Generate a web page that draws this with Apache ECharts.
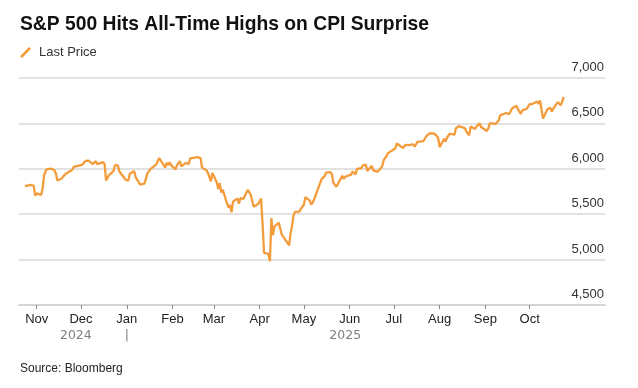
<!DOCTYPE html>
<html>
<head>
<meta charset="utf-8">
<script src="https://cdn.jsdelivr.net/npm/echarts@6/dist/echarts.min.js"></script>
<style>html,body{margin:0;padding:0;background:#fff}#c{width:638px;height:388px}</style>
</head>
<body>
<div id="c"></div>
<script>
const titleText = 'S&P 500 Hits All-Time Highs on CPI Surprise';
const seriesName = 'Last Price';
const sourceText = 'Source: Bloomberg';
const monthNames = ['Jan','Feb','Mar','Apr','May','Jun','Jul','Aug','Sep','Oct','Nov','Dec'];
const monthTicks = ['2024-11-01','2024-12-01','2025-01-01','2025-02-01','2025-03-01','2025-04-01','2025-05-01','2025-06-01','2025-07-01','2025-08-01','2025-09-01','2025-10-01'];
const yearBoundary = '2025-01-01';
const yTicks = [4500, 5000, 5500, 6000, 6500, 7000];

const dates = [
'2024-10-24','2024-10-25','2024-10-28','2024-10-29','2024-10-30','2024-10-31',
'2024-11-01','2024-11-04','2024-11-05','2024-11-06','2024-11-07','2024-11-08','2024-11-11','2024-11-12','2024-11-13','2024-11-14','2024-11-15','2024-11-18','2024-11-19','2024-11-20','2024-11-21','2024-11-22','2024-11-25','2024-11-26','2024-11-27','2024-11-29',
'2024-12-02','2024-12-03','2024-12-04','2024-12-05','2024-12-06','2024-12-09','2024-12-10','2024-12-11','2024-12-12','2024-12-13','2024-12-16','2024-12-17','2024-12-18','2024-12-19','2024-12-20','2024-12-23','2024-12-24','2024-12-26','2024-12-27','2024-12-30','2024-12-31',
'2025-01-02','2025-01-03','2025-01-06','2025-01-07','2025-01-08','2025-01-10','2025-01-13','2025-01-14','2025-01-15','2025-01-16','2025-01-17','2025-01-21','2025-01-22','2025-01-23','2025-01-24','2025-01-27','2025-01-28','2025-01-29','2025-01-30','2025-01-31',
'2025-02-03','2025-02-04','2025-02-05','2025-02-06','2025-02-07','2025-02-10','2025-02-11','2025-02-12','2025-02-13','2025-02-14','2025-02-18','2025-02-19','2025-02-20','2025-02-21','2025-02-24','2025-02-25','2025-02-26','2025-02-27','2025-02-28',
'2025-03-03','2025-03-04','2025-03-05','2025-03-06','2025-03-07','2025-03-10','2025-03-11','2025-03-12','2025-03-13','2025-03-14','2025-03-17','2025-03-18','2025-03-19','2025-03-20','2025-03-21','2025-03-24','2025-03-25','2025-03-26','2025-03-27','2025-03-28','2025-03-31',
'2025-04-01','2025-04-02','2025-04-03','2025-04-04','2025-04-07','2025-04-08','2025-04-09','2025-04-10','2025-04-11','2025-04-14','2025-04-15','2025-04-16','2025-04-17','2025-04-21','2025-04-22','2025-04-23','2025-04-24','2025-04-25','2025-04-28','2025-04-29','2025-04-30',
'2025-05-01','2025-05-02','2025-05-05','2025-05-06','2025-05-07','2025-05-08','2025-05-09','2025-05-12','2025-05-13','2025-05-14','2025-05-15','2025-05-16','2025-05-19','2025-05-20','2025-05-21','2025-05-22','2025-05-23','2025-05-27','2025-05-28','2025-05-29','2025-05-30',
'2025-06-02','2025-06-03','2025-06-04','2025-06-05','2025-06-06','2025-06-09','2025-06-10','2025-06-11','2025-06-12','2025-06-13','2025-06-16','2025-06-17','2025-06-18','2025-06-20','2025-06-23','2025-06-24','2025-06-25','2025-06-26','2025-06-27','2025-06-30',
'2025-07-01','2025-07-02','2025-07-03','2025-07-07','2025-07-08','2025-07-09','2025-07-10','2025-07-11','2025-07-14','2025-07-15','2025-07-16','2025-07-17','2025-07-18','2025-07-21','2025-07-22','2025-07-23','2025-07-24','2025-07-25','2025-07-28','2025-07-29','2025-07-30','2025-07-31',
'2025-08-01','2025-08-04','2025-08-05','2025-08-06','2025-08-07','2025-08-08','2025-08-11','2025-08-12','2025-08-13','2025-08-14','2025-08-15','2025-08-18','2025-08-19','2025-08-20','2025-08-21','2025-08-22','2025-08-25','2025-08-26','2025-08-27','2025-08-28','2025-08-29',
'2025-09-02','2025-09-03','2025-09-04','2025-09-05','2025-09-08','2025-09-09','2025-09-10','2025-09-11','2025-09-12','2025-09-15','2025-09-16','2025-09-17','2025-09-18','2025-09-19','2025-09-22','2025-09-23','2025-09-24','2025-09-25','2025-09-26','2025-09-29','2025-09-30',
'2025-10-01','2025-10-02','2025-10-03','2025-10-06','2025-10-07','2025-10-08','2025-10-09','2025-10-10','2025-10-13','2025-10-14','2025-10-15','2025-10-16','2025-10-17','2025-10-20','2025-10-21','2025-10-22','2025-10-23','2025-10-24'
];

const prices = [
5809,5808,5823,5833,5813,5705,
5729,5712,5782,5929,5973,5996,6001,5984,5985,5949,5871,5894,5917,5917,5949,5969,5987,6021,5999,6032,
6047,6050,6087,6075,6090,6053,6034,6084,6051,6051,6074,6050,5872,5867,5931,5974,6040,6037,5971,5907,5882,
5869,5942,5975,5909,5918,5827,5837,5843,5950,5937,5997,6049,6086,6119,6101,6012,6067,6039,6071,6041,
5994,6037,6061,6084,6026,6066,6068,6052,6115,6115,6129,6144,6118,6013,5983,5955,5956,5861,5955,
5850,5778,5843,5739,5770,5615,5573,5599,5522,5639,5675,5615,5676,5663,5668,5768,5777,5712,5693,5581,5612,
5633,5671,5397,5074,5062,4983,5457,5268,5363,5406,5397,5276,5283,5158,5288,5376,5485,5525,5529,5561,5569,
5604,5687,5650,5607,5631,5664,5660,5844,5886,5892,5917,5958,5964,5940,5845,5842,5802,5922,5889,5912,5912,
5936,5970,5971,5939,6000,6006,6039,6022,6045,5977,6033,5982,5981,5967,6025,6092,6092,6141,6173,6205,
6198,6227,6279,6230,6226,6263,6280,6260,6269,6244,6264,6297,6297,6306,6309,6359,6363,6389,6390,6371,6362,6339,
6238,6330,6299,6345,6340,6389,6374,6446,6466,6469,6450,6449,6411,6396,6370,6467,6439,6466,6481,6502,6460,
6416,6448,6502,6482,6495,6512,6532,6588,6584,6615,6607,6600,6631,6664,6694,6656,6637,6605,6644,6661,6688,
6711,6715,6716,6740,6715,6754,6735,6553,6655,6644,6671,6630,6664,6735,6736,6699,6738,6792
];

function toTs(s) { const p = s.split('-').map(Number); return new Date(p[0], p[1] - 1, p[2]).getTime(); }

const seriesData = dates.map((d, i) => [toTs(d), prices[i]]);
const tickValues = monthTicks.map(toTs);
const firstTs = toTs(dates[0]);
const lastTs = toTs(dates[dates.length - 1]);
const boundaryTs = toTs(yearBoundary);
const mid24 = (firstTs + boundaryTs) / 2;
const mid25 = (boundaryTs + lastTs) / 2;
const xMin = toTs('2024-10-20');
const xMax = toTs('2025-11-21');

const ORANGE = '#F39C3C';
const FONT = '"Liberation Sans", Arial, sans-serif';

const chart = echarts.init(document.getElementById('c'), null, { renderer: 'canvas' });
chart.setOption({
  animation: false,
  backgroundColor: '#ffffff',
  textStyle: { fontFamily: FONT },
  title: {
    text: titleText,
    left: 15, top: 10,
    textStyle: { fontFamily: FONT, fontSize: 19.3, fontWeight: 'bold', color: '#111' }
  },
  legend: {
    left: 15, top: 41,
    icon: 'path://M0,9.2 L9,0 L11,1.8 L2,11 Z',
    itemWidth: 11, itemHeight: 11,
    data: [seriesName],
    textStyle: { fontFamily: FONT, fontSize: 13, color: '#333', padding: [0, 0, 0, 3] }
  },
  graphic: [{
    type: 'text', left: 20, top: 363,
    style: { text: sourceText, font: '12px ' + FONT, fill: '#222' }
  }],
  grid: { left: 19, right: 33, top: 78, bottom: 83, containLabel: false, outerBoundsMode: 'none' },
  xAxis: [{
    type: 'value', min: xMin, max: xMax, scale: true,
    axisLine: { show: true, onZero: false, lineStyle: { color: '#d4d4d4', width: 2 } },
    axisTick: { show: true, customValues: tickValues, length: 4, lineStyle: { color: '#888', width: 1 } },
    axisLabel: {
      customValues: tickValues, margin: 8, fontSize: 13, color: '#222', fontFamily: FONT,
      formatter: v => monthNames[new Date(v).getMonth()]
    },
    splitLine: { show: false }
  }, {
    type: 'value', min: xMin, max: xMax, scale: true, position: 'bottom', offset: 16,
    axisLine: { show: false }, axisTick: { show: false }, splitLine: { show: false },
    axisLabel: {
      customValues: [mid24, boundaryTs, mid25], margin: 8, fontSize: 12.5, color: '#808080',
      fontFamily: '"DejaVu Sans", sans-serif',
      formatter: v => (v === boundaryTs ? '|' : String(new Date(v).getFullYear()))
    }
  }],
  yAxis: {
    type: 'value', position: 'right', min: yTicks[0], max: yTicks[yTicks.length - 1], interval: 500,
    axisLine: { show: false }, axisTick: { show: false },
    axisLabel: {
      inside: true, margin: 1, verticalAlign: 'bottom', padding: [0, 0, 4, 0],
      fontSize: 13, color: '#333', fontFamily: FONT,
      formatter: v => v.toLocaleString('en-US')
    },
    splitLine: { show: true, lineStyle: { color: '#e2e2e2', width: 2 } }
  },
  series: [{
    name: seriesName, type: 'line', xAxisIndex: 0, data: seriesData,
    showSymbol: false, symbol: 'none',
    lineStyle: { color: ORANGE, width: 2.3 }, itemStyle: { color: ORANGE },
    z: 3
  }]
});
</script>
</body>
</html>
